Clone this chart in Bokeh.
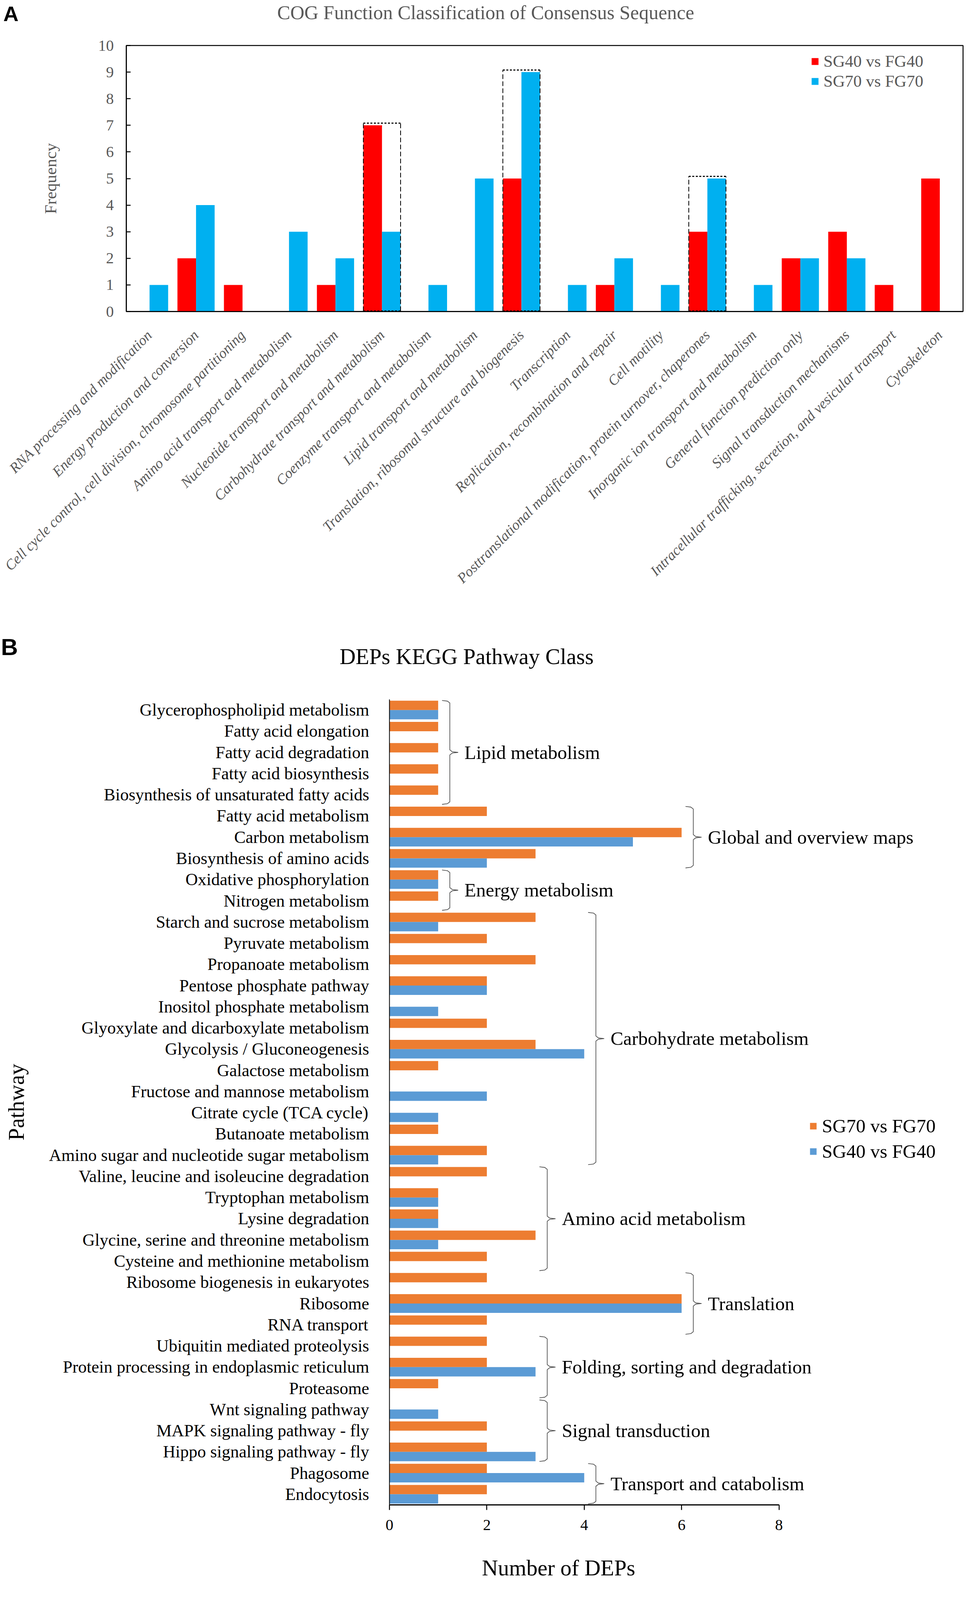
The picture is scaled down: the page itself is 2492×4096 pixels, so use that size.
import math
from bokeh.plotting import figure
from bokeh.models import (FactorRange, Range1d, ColumnDataSource, Legend, LegendItem,
                          FixedTicker)
from bokeh.transform import dodge
from bokeh.layouts import column
from bokeh.embed import file_html
from bokeh.resources import INLINE
from bokeh.core.properties import value

SERIF = "Liberation Serif"
SANS = "Liberation Sans"
GRAY = "#595959"

# ---------------- Panel A data ----------------
cog_categories = [
    "RNA processing and modification",
    "Energy production and conversion",
    "Cell cycle control, cell division, chromosome partitioning",
    "Amino acid transport and metabolism",
    "Nucleotide transport and metabolism",
    "Carbohydrate transport and metabolism",
    "Coenzyme transport and metabolism",
    "Lipid transport and metabolism",
    "Translation, ribosomal structure and biogenesis",
    "Transcription",
    "Replication, recombination and repair",
    "Cell motility",
    "Posttranslational modification, protein turnover, chaperones",
    "Inorganic ion transport and metabolism",
    "General function prediction only",
    "Signal transduction mechanisms",
    "Intracellular trafficking, secretion, and vesicular transport",
    "Cytoskeleton",
]
cog_sg40 = [0, 2, 1, 0, 1, 7, 0, 0, 5, 0, 1, 0, 3, 0, 2, 3, 1, 5]
cog_sg70 = [1, 4, 0, 3, 2, 3, 1, 5, 9, 1, 2, 1, 5, 1, 2, 2, 0, 0]
cog_highlight = [
    "Carbohydrate transport and metabolism",
    "Translation, ribosomal structure and biogenesis",
    "Posttranslational modification, protein turnover, chaperones",
]
cog_yticks = [0, 1, 2, 3, 4, 5, 6, 7, 8, 9, 10]

# ---------------- Panel B data ----------------
kegg_pathways = [
    "Glycerophospholipid metabolism",
    "Fatty acid elongation",
    "Fatty acid degradation",
    "Fatty acid biosynthesis",
    "Biosynthesis of unsaturated fatty acids",
    "Fatty acid metabolism",
    "Carbon metabolism",
    "Biosynthesis of amino acids",
    "Oxidative phosphorylation",
    "Nitrogen metabolism",
    "Starch and sucrose metabolism",
    "Pyruvate metabolism",
    "Propanoate metabolism",
    "Pentose phosphate pathway",
    "Inositol phosphate metabolism",
    "Glyoxylate and dicarboxylate metabolism",
    "Glycolysis / Gluconeogenesis",
    "Galactose metabolism",
    "Fructose and mannose metabolism",
    "Citrate cycle (TCA cycle)",
    "Butanoate metabolism",
    "Amino sugar and nucleotide sugar metabolism",
    "Valine, leucine and isoleucine degradation",
    "Tryptophan metabolism",
    "Lysine degradation",
    "Glycine, serine and threonine metabolism",
    "Cysteine and methionine metabolism",
    "Ribosome biogenesis in eukaryotes",
    "Ribosome",
    "RNA transport",
    "Ubiquitin mediated proteolysis",
    "Protein processing in endoplasmic reticulum",
    "Proteasome",
    "Wnt signaling pathway",
    "MAPK signaling pathway - fly",
    "Hippo signaling pathway - fly",
    "Phagosome",
    "Endocytosis",
]
kegg_sg70 = [1, 1, 1, 1, 1, 2, 6, 3, 1, 1, 3, 2, 3, 2, 0, 2, 3, 1, 0, 0, 1, 2,
             2, 1, 1, 3, 2, 2, 6, 2, 2, 2, 1, 0, 2, 2, 2, 2]
kegg_sg40 = [1, 0, 0, 0, 0, 0, 5, 2, 1, 0, 1, 0, 0, 2, 1, 0, 4, 0, 2, 1, 0, 1,
             0, 1, 1, 1, 0, 0, 6, 0, 0, 3, 0, 1, 0, 3, 4, 1]
kegg_classes = [
    "Lipid metabolism",
    "Global and overview maps",
    "Energy metabolism",
    "Carbohydrate metabolism",
    "Amino acid metabolism",
    "Translation",
    "Folding, sorting and degradation",
    "Signal transduction",
    "Transport and catabolism",
]
kegg_class_sizes = [5, 3, 2, 12, 5, 3, 3, 3, 2]
kegg_xticks = [0, 2, 4, 6, 8]

W = 2484
H_HEAD_A = 68
H_A = 1492
H_HEAD_B = 180
H_B = 2220
H_FOOT_B = 128


def text_figure(height):
    f = figure(width=W, height=height, x_range=Range1d(0, W), y_range=Range1d(height, 0),
               output_backend="svg", toolbar_location=None, title=None,
               x_axis_location=None, y_axis_location=None, frame_align=False,
               min_border_left=0, min_border_right=0, min_border_top=0, min_border_bottom=0)
    f.outline_line_color = None
    f.xgrid.visible = False
    f.ygrid.visible = False
    return f


# ================= Panel A header =================
headA = text_figure(H_HEAD_A)
headA.text(x=[8], y=[34], text=["A"], text_font=value(SANS), text_font_style="bold",
           text_font_size="54px", text_color="black", text_align="left",
           text_baseline="middle")
headA.text(x=[1243.5], y=[31], text=["COG Function Classification of Consensus Sequence"],
           text_font=value(SERIF), text_font_size="50px", text_color=GRAY,
           text_align="center", text_baseline="middle")

# ================= Panel A =================
pA = figure(width=W, height=H_A, x_range=FactorRange(factors=cog_categories),
            y_range=Range1d(0, 10), output_backend="svg", toolbar_location=None,
            frame_align=False,
            min_border_left=323, min_border_right=W - 2466, min_border_top=48,
            min_border_bottom=H_A - 729)
pA.xgrid.visible = False
pA.ygrid.visible = False
pA.outline_line_color = "black"
pA.outline_line_width = 2.5
pA.outline_line_alpha = 1.0

srcA = ColumnDataSource(dict(cat=cog_categories, sg40=cog_sg40, sg70=cog_sg70))
rA1 = pA.vbar(x=dodge("cat", -0.2, range=pA.x_range), top="sg40", width=0.4,
              source=srcA, fill_color="#FF0000", line_color=None)
rA2 = pA.vbar(x=dodge("cat", 0.2, range=pA.x_range), top="sg70", width=0.4,
              source=srcA, fill_color="#00B0F0", line_color=None)

hl_top = [max(cog_sg40[cog_categories.index(c)], cog_sg70[cog_categories.index(c)]) + 0.08
          for c in cog_highlight]
srcH = ColumnDataSource(dict(cat=cog_highlight, top=hl_top, zero=[0.02] * len(cog_highlight)))
for off in (-0.4, 0.4):
    pA.segment(x0=dodge("cat", off, range=pA.x_range), y0="zero",
               x1=dodge("cat", off, range=pA.x_range), y1="top", source=srcH,
               line_color="black", line_width=2, line_dash="12 6")
for ycol in ("top", "zero"):
    pA.segment(x0=dodge("cat", -0.4, range=pA.x_range), y0=ycol,
               x1=dodge("cat", 0.4, range=pA.x_range), y1=ycol, source=srcH,
               line_color="black", line_width=3, line_dash="5 4")

xa = pA.xaxis[0]
xa.major_label_orientation = math.pi / 4
xa.major_label_text_font = SERIF
xa.major_label_text_font_size = "37px"
xa.major_label_text_font_style = "italic"
xa.major_label_text_color = GRAY
xa.major_tick_line_color = None
xa.minor_tick_line_color = None
xa.axis_line_width = 2.5
xa.major_label_standoff = 48

ya = pA.yaxis[0]
ya.ticker = FixedTicker(ticks=cog_yticks)
ya.major_tick_in = 11
ya.major_tick_out = 0
ya.major_tick_line_width = 2.5
ya.minor_tick_line_color = None
ya.major_label_text_font = SERIF
ya.major_label_text_font_size = "40px"
ya.major_label_text_color = GRAY
ya.major_label_standoff = 32
ya.axis_line_width = 2.5
ya.axis_label = "Frequency"
ya.axis_label_text_font = SERIF
ya.axis_label_text_font_size = "43px"
ya.axis_label_text_font_style = "normal"
ya.axis_label_text_color = GRAY
ya.axis_label_standoff = 96

legA = Legend(items=[LegendItem(label="SG40 vs FG40", renderers=[rA1]),
                     LegendItem(label="SG70 vs FG70", renderers=[rA2])],
              location=(1753, 565), orientation="vertical",
              glyph_width=22, glyph_height=22, label_standoff=11, padding=0,
              margin=0, spacing=2, border_line_color=None, background_fill_alpha=0,
              label_text_font=SERIF, label_text_font_size="43px", label_text_color=GRAY)
pA.add_layout(legA)

# ================= Panel B header =================
headB = text_figure(H_HEAD_B)
headB.text(x=[2], y=[96], text=["B"], text_font=value(SANS), text_font_style="bold",
           text_font_size="60px", text_color="black", text_align="left",
           text_baseline="middle")
headB.text(x=[1194.5], y=[120], text=["DEPs KEGG Pathway Class"],
           text_font=value(SERIF), text_font_size="57px", text_color="black",
           text_align="center", text_baseline="middle")

# ================= Panel B =================
N = len(kegg_pathways)
B_LEFT = 997
B_RIGHT = 2466
pB = figure(width=W, height=H_B, y_range=FactorRange(factors=list(reversed(kegg_pathways))),
            x_range=Range1d(0, (B_RIGHT - B_LEFT) / 124.7), output_backend="svg",
            toolbar_location=None, frame_align=False,
            min_border_left=B_LEFT, min_border_right=W - B_RIGHT, min_border_top=50,
            min_border_bottom=H_B - 2112)
pB.xgrid.visible = False
pB.ygrid.visible = False
pB.outline_line_color = None

srcB = ColumnDataSource(dict(path=kegg_pathways, sg70=kegg_sg70, sg40=kegg_sg40))
rB1 = pB.hbar(y=dodge("path", 0.22, range=pB.y_range), left=0, right="sg70", height=0.44,
              source=srcB, fill_color="#ED7D31", line_color=None)
rB2 = pB.hbar(y=dodge("path", -0.22, range=pB.y_range), left=0, right="sg40", height=0.44,
              source=srcB, fill_color="#5B9BD5", line_color=None)

bx, by, lx, ly = [], [], [], []
k = 0
for size in kegg_class_sizes:
    vals = kegg_sg70[k:k + size] + kegg_sg40[k:k + size]
    xb = max(vals) + 0.24
    yt = N - k - 0.05
    yb = N - (k + size) + 0.05
    ym = (yt + yb) / 2
    h, t = 0.16, 0.17
    bx.append([xb - h, xb - 0.05, xb, xb, xb + 0.05, xb + t, xb + 0.05, xb, xb, xb - 0.05, xb - h])
    by.append([yt, yt - 0.03, yt - 0.12, ym + 0.12, ym + 0.03, ym, ym - 0.03, ym - 0.12,
               yb + 0.12, yb + 0.03, yb])
    lx.append(xb + t + 0.13)
    ly.append(ym)
    k += size
pB.multi_line(xs=bx, ys=by, line_color="#404040", line_width=1.6)
pB.text(x=lx, y=ly, text=kegg_classes, text_font=value(SERIF), text_font_size="49px",
        text_baseline="middle", text_align="left", text_color="black")

xb_ax = pB.xaxis[0]
xb_ax.ticker = FixedTicker(ticks=kegg_xticks)
xb_ax.bounds = (0, 8)
xb_ax.major_tick_out = 13
xb_ax.major_tick_in = 0
xb_ax.major_tick_line_width = 2.5
xb_ax.minor_tick_line_color = None
xb_ax.axis_line_width = 3
xb_ax.major_label_text_font = SERIF
xb_ax.major_label_text_font_size = "40px"
xb_ax.major_label_text_color = "black"
xb_ax.major_label_standoff = 25

yb_ax = pB.yaxis[0]
yb_ax.major_tick_line_color = None
yb_ax.minor_tick_line_color = None
yb_ax.axis_line_width = 2
yb_ax.major_label_text_font = SERIF
yb_ax.major_label_text_font_size = "44px"
yb_ax.major_label_text_color = "black"
yb_ax.major_label_standoff = 46
yb_ax.axis_label = "Pathway"
yb_ax.axis_label_text_font = SERIF
yb_ax.axis_label_text_font_size = "57px"
yb_ax.axis_label_text_font_style = "normal"
yb_ax.axis_label_text_color = "black"
yb_ax.axis_label_standoff = 50

legB = Legend(items=[LegendItem(label="SG70 vs FG70", renderers=[rB1]),
                     LegendItem(label="SG40 vs FG40", renderers=[rB2])],
              location=(1075, 876), orientation="vertical",
              glyph_width=21, glyph_height=21, label_standoff=12, padding=0,
              margin=0, spacing=8, border_line_color=None, background_fill_alpha=0,
              label_text_font=SERIF, label_text_font_size="49px", label_text_color="black")
pB.add_layout(legB)

# ================= Panel B footer =================
footB = text_figure(H_FOOT_B)
footB.text(x=[1430], y=[53], text=["Number of DEPs"], text_font=value(SERIF),
           text_font_size="57px", text_color="black", text_align="center",
           text_baseline="middle")

layout = column(headA, pA, headB, pB, footB)
open("out.html", "w").write(file_html(layout, INLINE))
